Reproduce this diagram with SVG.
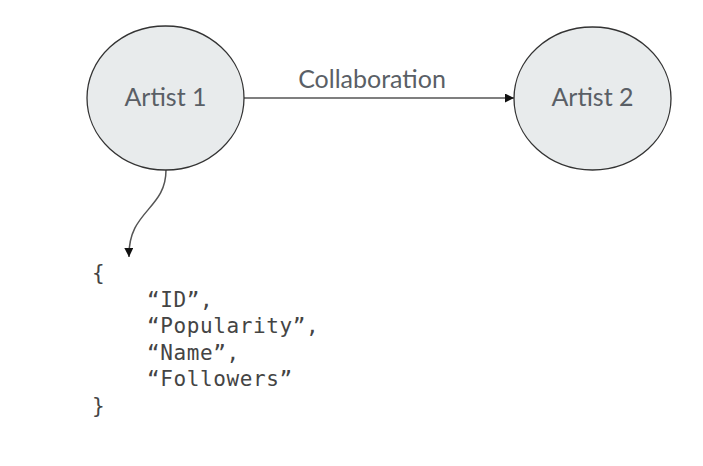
<svg xmlns="http://www.w3.org/2000/svg" width="703" height="466" viewBox="0 0 703 466">
<style>
.node{fill:#e8ebec;stroke:#333;stroke-width:1.3}
.lbl{font-family:Lato,"Liberation Sans",sans-serif;font-size:25px;fill:#5a5f66;text-anchor:middle}
.edge{fill:none;stroke:#555;stroke-width:1.5}
.code{font-family:"DejaVu Sans Mono","Liberation Mono",monospace;font-size:21px;fill:#444;letter-spacing:0.6px}
</style>
<defs>
<marker id="ah2" viewBox="0 0 10 10" refX="10" refY="5" markerWidth="14" markerHeight="9" markerUnits="userSpaceOnUse" orient="auto">
<path d="M0,0 L10,5 L0,10 z" fill="#111"/>
</marker>
</defs>
<rect width="703" height="466" fill="#fff"/>
<g id="edges">
<path class="edge" d="M244,98 L514,98" marker-end="url(#ah2)"/>
<text class="lbl" x="372" y="88">Collaboration</text>
<path class="edge" d="M166,170 C166,210 128,210 129,257" marker-end="url(#ah2)"/>
</g>
<g id="artist1">
<ellipse class="node" cx="165.5" cy="98" rx="78.5" ry="72"/>
<text class="lbl" x="165.5" y="106">Artist 1</text>
</g>
<g id="artist2">
<ellipse class="node" cx="592.5" cy="98.5" rx="78.5" ry="71.5"/>
<text class="lbl" x="592.5" y="106">Artist 2</text>
</g>
<g id="json">
<text class="code" x="92" y="280">{</text>
<text class="code" x="147" y="307">“ID”,</text>
<text class="code" x="147" y="333">“Popularity”,</text>
<text class="code" x="147" y="360">“Name”,</text>
<text class="code" x="147" y="386">“Followers”</text>
<text class="code" x="92" y="413">}</text>
</g>
</svg>
